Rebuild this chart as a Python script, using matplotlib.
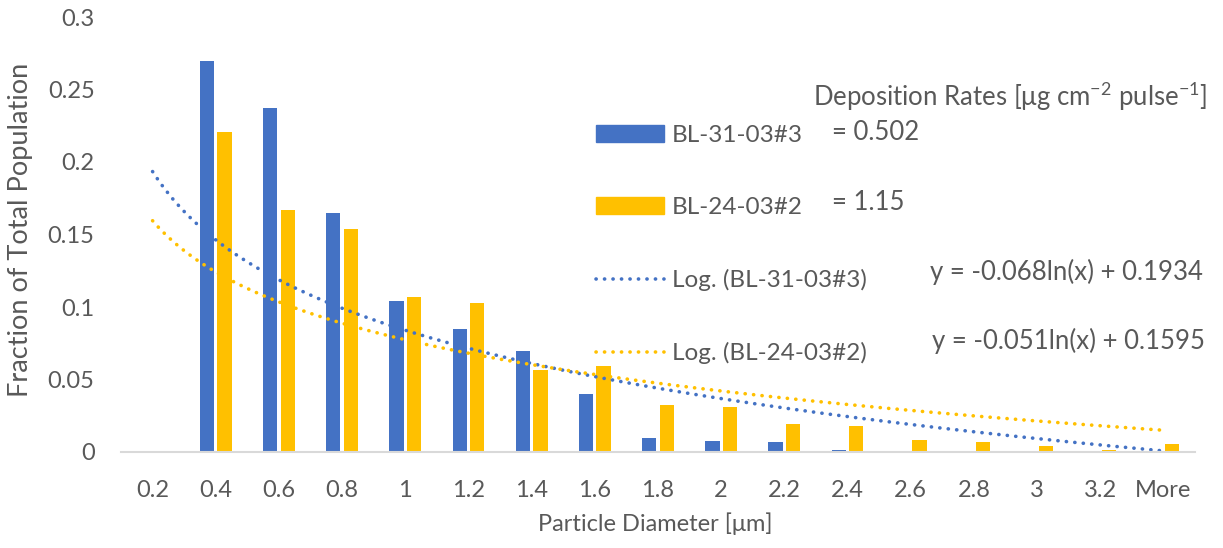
import numpy as np
import matplotlib
matplotlib.use('Agg')
import matplotlib.pyplot as plt
from matplotlib.patches import Patch
from matplotlib.lines import Line2D

# category labels (particle diameter bins)
categories = ['0.2', '0.4', '0.6', '0.8', '1', '1.2', '1.4', '1.6', '1.8', '2',
              '2.2', '2.4', '2.6', '2.8', '3', '3.2', 'More']

# fraction of total population per bin
bl31 = [0.001, 0.270, 0.237, 0.165, 0.104, 0.085, 0.070, 0.040, 0.0095, 0.0079,
        0.0067, 0.0012, 0.0, 0.001, 0.0, 0.0, 0.0]
bl24 = [0.0005, 0.221, 0.167, 0.154, 0.107, 0.1025, 0.0566, 0.059, 0.0327, 0.0309,
        0.0191, 0.0182, 0.0086, 0.0067, 0.004, 0.0012, 0.0058]

# log trendline coefficients as printed on the chart: y = a ln(x) + b
fit31 = (-0.068, 0.1934)
fit24 = (-0.051, 0.1595)

blue = '#4472C4'
yellow = '#FFC000'
grey = '#595959'
dots = (0, (0.05, 2.3))

plt.rcParams['font.family'] = ['Lato', 'DejaVu Sans']
plt.rcParams['mathtext.fontset'] = 'custom'
plt.rcParams['mathtext.rm'] = 'Lato'

fig = plt.figure(figsize=(12.23, 5.48), dpi=100)
ax = fig.add_axes([121 / 1223, 1 - 452 / 548, 1074 / 1223, 435 / 548])

x = np.arange(len(categories))
w = 0.226
ax.bar(x - 0.139, bl31, width=w, color=blue)
ax.bar(x + 0.139, bl24, width=w, color=yellow)

# Excel category trendlines use x = 1..N
xn = np.linspace(1, len(categories), 300)
ax.plot(xn - 1, fit31[0] * np.log(xn) + fit31[1], color=blue, lw=2.6,
        linestyle=dots, dash_capstyle='round')
ax.plot(xn - 1, fit24[0] * np.log(xn) + fit24[1], color=yellow, lw=2.6,
        linestyle=dots, dash_capstyle='round')

ax.set_xlim(-0.5, 16.5)
ax.set_ylim(0, 0.3)
ax.set_xticks(x)
ax.set_xticklabels(categories)
ax.set_yticks([0, 0.05, 0.1, 0.15, 0.2, 0.25, 0.3])
ax.set_yticklabels(['0', '0.05', '0.1', '0.15', '0.2', '0.25', '0.3'])
ax.tick_params(length=0, labelsize=17, colors=grey)
ax.tick_params(axis='x', pad=20)
ax.tick_params(axis='y', pad=19)
for s in ['top', 'right', 'left']:
    ax.spines[s].set_visible(False)
ax.spines['bottom'].set_color('#D9D9D9')
ax.spines['bottom'].set_linewidth(1.5)

ax.set_xlabel('Particle Diameter [μm]', fontsize=17, color=grey)
ax.set_ylabel('Fraction of Total Population', fontsize=19.5, color=grey)
ax.xaxis.set_label_coords(655 / 1223, 1 - 524 / 548, transform=fig.transFigure)
ax.yaxis.set_label_coords(21 / 1223, 1 - 230 / 548, transform=fig.transFigure)
ax.xaxis.label.set_va('center')
ax.yaxis.label.set_va('center')

handles = [Patch(color=blue), Patch(color=yellow),
           Line2D([], [], color=blue, lw=2.6, linestyle=dots, dash_capstyle='round'),
           Line2D([], [], color=yellow, lw=2.6, linestyle=dots, dash_capstyle='round')]
labels = ['BL-31-03#3', 'BL-24-03#2', 'Log. (BL-31-03#3)', 'Log. (BL-24-03#2)']
leg = fig.legend(handles, labels, loc='upper left', bbox_to_anchor=(596 / 1223, 1 - 125 / 548),
                 frameon=False, fontsize=17.5, labelspacing=2.1, handlelength=2.8,
                 handletextpad=0.33, handleheight=0.66, borderpad=0, borderaxespad=0)
for t in leg.get_texts():
    t.set_color(grey)

def ftext(px, py, s):
    fig.text(px / 1223, 1 - py / 548, s, fontsize=18.5, color=grey, va='center', ha='left')

ftext(813, 96, r'Deposition Rates [μg cm$^{-2}$ pulse$^{-1}$]')
ftext(832, 132, '= 0.502')
ftext(832, 203, '= 1.15')
ftext(930, 272, 'y = -0.068ln(x) + 0.1934')
ftext(932, 341, 'y = -0.051ln(x) + 0.1595')

fig.savefig('out.png', dpi=100)
